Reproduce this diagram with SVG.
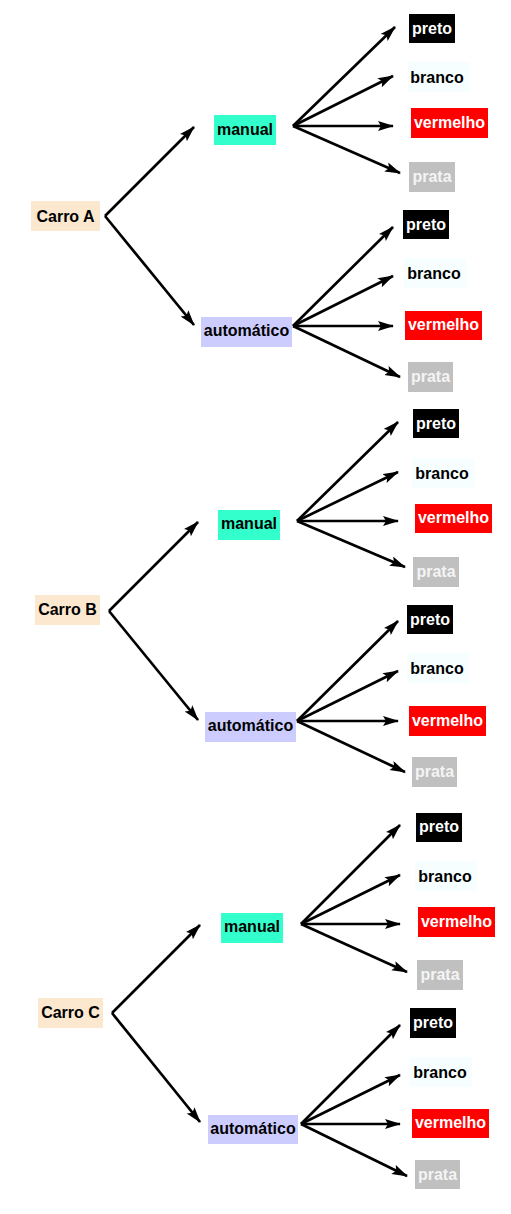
<svg xmlns="http://www.w3.org/2000/svg" width="511" height="1214" viewBox="0 0 511 1214">
<style>
text{font-family:"Liberation Sans",Arial,sans-serif;font-size:16px;font-weight:bold;text-anchor:middle;dominant-baseline:central}
.carro rect{fill:#FCE8CF}
.man rect{fill:#33FFCC}
.aut rect{fill:#CCCCFF}
.preto rect{fill:#000}
.preto text{fill:#fff}
.branco rect{fill:#F6FEFF}
.verm rect{fill:#FF0000}
.verm text{fill:#fff}
.prata rect{fill:#C0C0C0}
.prata text{fill:#F4F4F4}
#connectors line{stroke:#000;stroke-width:2.7;marker-end:url(#ah)}
</style>
<defs>
<marker id="ah" markerUnits="userSpaceOnUse" markerWidth="18" markerHeight="11" refX="15" refY="5" orient="auto">
<path d="M0,0 L16,5 L0,10 L3,5 z" fill="#000"/>
</marker>
</defs>
<rect width="511" height="1214" fill="#fff"/>
<g id="connectors">
<line x1="105" y1="216" x2="194" y2="127"/>
<line x1="105" y1="216" x2="194" y2="325"/>
<line x1="293" y1="126" x2="395" y2="27"/>
<line x1="293" y1="126" x2="393" y2="76"/>
<line x1="293" y1="126" x2="393" y2="126"/>
<line x1="293" y1="126" x2="400" y2="173"/>
<line x1="293" y1="326" x2="393" y2="227"/>
<line x1="293" y1="326" x2="393" y2="276"/>
<line x1="293" y1="326" x2="393" y2="326"/>
<line x1="293" y1="326" x2="400" y2="377"/>
<line x1="109" y1="611" x2="198" y2="522"/>
<line x1="109" y1="611" x2="198" y2="720"/>
<line x1="297" y1="521" x2="398" y2="422"/>
<line x1="297" y1="521" x2="398" y2="472"/>
<line x1="297" y1="521" x2="398" y2="521"/>
<line x1="297" y1="521" x2="405" y2="567"/>
<line x1="297" y1="721" x2="398" y2="621"/>
<line x1="297" y1="721" x2="398" y2="671"/>
<line x1="297" y1="721" x2="398" y2="721"/>
<line x1="297" y1="721" x2="405" y2="772"/>
<line x1="112" y1="1013" x2="200" y2="925"/>
<line x1="112" y1="1013" x2="200" y2="1122"/>
<line x1="301" y1="924" x2="400" y2="825"/>
<line x1="301" y1="924" x2="400" y2="875"/>
<line x1="301" y1="924" x2="400" y2="924"/>
<line x1="301" y1="924" x2="407" y2="972"/>
<line x1="301" y1="1124" x2="400" y2="1025"/>
<line x1="301" y1="1124" x2="400" y2="1075"/>
<line x1="301" y1="1124" x2="400" y2="1124"/>
<line x1="301" y1="1124" x2="407" y2="1176"/>
</g>
<!-- Tree A -->
<g id="carroA" class="carro"><rect x="31" y="201" width="69" height="30"/><text x="65.5" y="216">Carro A</text></g>
<g id="manualA" class="man"><rect x="214" y="115" width="62" height="30"/><text x="245" y="129">manual</text></g>
<g id="autoA" class="aut"><rect x="201" y="317" width="91" height="30"/><text x="246.5" y="330">automático</text></g>
<g id="pretoA1" class="preto"><rect x="409" y="14" width="46" height="29"/><text x="432" y="28">preto</text></g>
<g id="brancoA1" class="branco"><rect x="408" y="62" width="62" height="30"/><text x="437" y="77">branco</text></g>
<g id="vermA1" class="verm"><rect x="411" y="108" width="77" height="30"/><text x="449.5" y="122">vermelho</text></g>
<g id="prataA1" class="prata"><rect x="409" y="162" width="46" height="30"/><text x="432" y="176">prata</text></g>
<g id="pretoA2" class="preto"><rect x="403" y="210" width="46" height="29"/><text x="426" y="224">preto</text></g>
<g id="brancoA2" class="branco"><rect x="404" y="258" width="62" height="30"/><text x="434" y="273">branco</text></g>
<g id="vermA2" class="verm"><rect x="405" y="311" width="77" height="29"/><text x="443.5" y="324">vermelho</text></g>
<g id="prataA2" class="prata"><rect x="408" y="362" width="45" height="30"/><text x="430.5" y="376">prata</text></g>
<!-- Tree B -->
<g id="carroB" class="carro"><rect x="35" y="595" width="65" height="30"/><text x="67.5" y="609">Carro B</text></g>
<g id="manualB" class="man"><rect x="218" y="510" width="62" height="30"/><text x="249" y="523">manual</text></g>
<g id="autoB" class="aut"><rect x="205" y="712" width="91" height="30"/><text x="250.5" y="725">automático</text></g>
<g id="pretoB1" class="preto"><rect x="413" y="409" width="46" height="29"/><text x="436" y="423">preto</text></g>
<g id="brancoB1" class="branco"><rect x="412" y="458" width="62" height="30"/><text x="442" y="473">branco</text></g>
<g id="vermB1" class="verm"><rect x="415" y="504" width="77" height="29"/><text x="453.5" y="517">vermelho</text></g>
<g id="prataB1" class="prata"><rect x="413" y="557" width="46" height="30"/><text x="436" y="571">prata</text></g>
<g id="pretoB2" class="preto"><rect x="407" y="605" width="46" height="29"/><text x="430" y="619">preto</text></g>
<g id="brancoB2" class="branco"><rect x="407" y="653" width="62" height="30"/><text x="437" y="668">branco</text></g>
<g id="vermB2" class="verm"><rect x="409" y="706" width="77" height="30"/><text x="447.5" y="720">vermelho</text></g>
<g id="prataB2" class="prata"><rect x="412" y="757" width="45" height="30"/><text x="434.5" y="771">prata</text></g>
<!-- Tree C -->
<g id="carroC" class="carro"><rect x="38" y="998" width="65" height="30"/><text x="70.5" y="1012">Carro C</text></g>
<g id="manualC" class="man"><rect x="221" y="913" width="62" height="30"/><text x="252" y="926">manual</text></g>
<g id="autoC" class="aut"><rect x="208" y="1115" width="90" height="29"/><text x="253" y="1128">automático</text></g>
<g id="pretoC1" class="preto"><rect x="416" y="813" width="46" height="29"/><text x="439" y="826">preto</text></g>
<g id="brancoC1" class="branco"><rect x="415" y="861" width="62" height="30"/><text x="445" y="876">branco</text></g>
<g id="vermC1" class="verm"><rect x="418" y="907" width="77" height="30"/><text x="456.5" y="921">vermelho</text></g>
<g id="prataC1" class="prata"><rect x="417" y="960" width="46" height="30"/><text x="440" y="974">prata</text></g>
<g id="pretoC2" class="preto"><rect x="410" y="1008" width="46" height="30"/><text x="433" y="1022">preto</text></g>
<g id="brancoC2" class="branco"><rect x="410" y="1057" width="62" height="30"/><text x="440" y="1072">branco</text></g>
<g id="vermC2" class="verm"><rect x="412" y="1109" width="77" height="29"/><text x="450.5" y="1122">vermelho</text></g>
<g id="prataC2" class="prata"><rect x="415" y="1160" width="45" height="29"/><text x="437.5" y="1174">prata</text></g>
</svg>
